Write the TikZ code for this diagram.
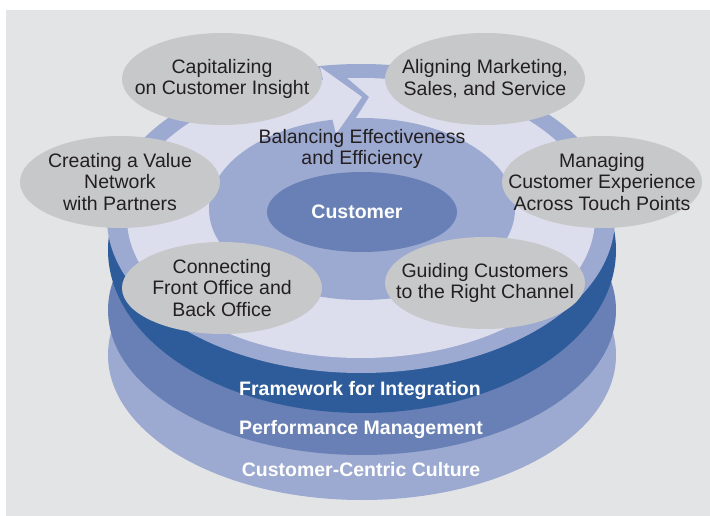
\documentclass[tikz,border=0pt]{standalone}
\usepackage{fontspec}
\setmainfont{Liberation Sans}
\usetikzlibrary{shapes.geometric}
\definecolor{bggray}{HTML}{E3E4E5}
\definecolor{bubgray}{HTML}{C7C8CA}
\definecolor{ringblue}{HTML}{9CA9D0}
\definecolor{lavender}{HTML}{DCDEED}
\definecolor{midblue}{HTML}{6880B5}
\definecolor{darkblue}{HTML}{2E5C9A}
\definecolor{inkblack}{HTML}{231F20}

\begin{document}
\begin{tikzpicture}[x=1pt,y=-1pt]
\tikzstyle{bubble}=[ellipse,fill=bubgray,minimum width=200pt,minimum height=92pt,inner xsep=-30pt,inner ysep=-15pt,align=center,text=inkblack,font=\fontsize{19.5}{21.7}\selectfont]
\tikzstyle{plain}=[align=center,text=inkblack,font=\fontsize{19.5}{21.7}\selectfont]
\tikzstyle{band}=[text=white,font=\fontsize{19.5}{22}\selectfont\bfseries]
\useasboundingbox (0,0) rectangle (710,516);
\fill[bggray] (6,10) rectangle (710,516);
\fill[ringblue] (362,355) ellipse [x radius=254pt, y radius=145pt];
\fill[midblue] (362,310) ellipse [x radius=254pt, y radius=145pt];
\fill[darkblue] (362,250) ellipse [x radius=254pt, y radius=163pt];
\fill[ringblue] (361,218.5) ellipse [x radius=254pt, y radius=154.5pt];
\fill[lavender] (361,218) ellipse [x radius=234pt, y radius=140pt];
\fill[ringblue] (362,209) ellipse [x radius=153pt, y radius=91pt];
\fill[ringblue] (323,68) -- (347,66) -- (347,78) -- (369,97) -- (352,124) -- (345,124) -- (345,97) -- cycle;
\fill[lavender] (320,67) -- (362,97) -- (336,134) -- cycle;
\fill[midblue] (362,212) ellipse [x radius=95pt, y radius=40pt];
\node[bubble] (capit) at (222,79) {Capitalizing\\on Customer Insight};
\node[bubble] (align) at (485,79) {Aligning Marketing,\\Sales, and Service};
\node[bubble] (value) at (120,182) {Creating a Value\\Network\\with Partners};
\node[bubble] (manag) at (602,182) {Managing\\Customer Experience\\Across Touch Points};
\node[bubble] (front) at (222,288) {Connecting\\Front Office and\\Back Office};
\node[bubble] (guide) at (485,283) {Guiding Customers\\to the Right Channel};
\node[plain] (balan) at (362,149) {Balancing Effectiveness\\and Efficiency};
\node[band] (cust) at (357,212) {Customer};
\node[band] (frame) at (360,390) {Framework for Integration};
\node[band] (perf) at (361,429) {Performance Management};
\node[band] (cult) at (361,470) {Customer-Centric Culture};
\end{tikzpicture}
\end{document}
